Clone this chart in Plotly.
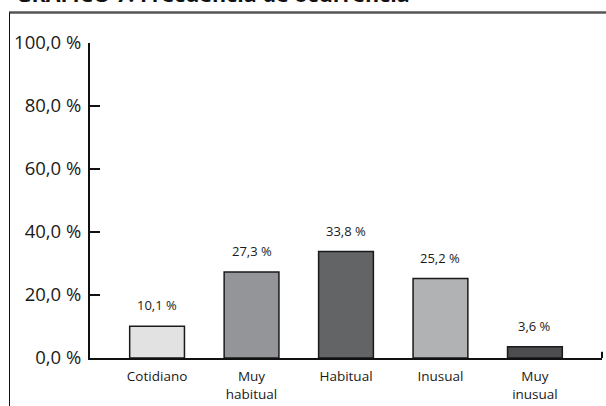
import plotly.graph_objects as go

categories = ["Cotidiano", "Muy<br>habitual", "Habitual", "Inusual", "Muy<br>inusual"]
values = [10.1, 27.3, 33.8, 25.2, 3.6]
value_labels = ["10,1 %", "27,3 %", "33,8 %", "25,2 %", "3,6 %"]
bar_colors = ["#e2e2e3", "#939598", "#636466", "#b1b2b4", "#4d4d4f"]
y_ticks = [0, 20, 40, 60, 80, 100]
y_tick_labels = ["0,0 %", "20,0 %", "40,0 %", "60,0 %", "80,0 %", "100,0 %"]
title_text = "GRÁFICO 7: Frecuencia de ocurrencia"

FONT = "Open Sans"

W, H = 606, 406
ML, MR, MT, MB = 9, 0, 12, 0
PW, PH = W - ML - MR, H - MT - MB


def px_x(x):
    return (x - ML) / PW


def px_y(y):
    return (H - MB - y) / PH


fig = go.Figure()
fig.add_trace(go.Bar(
    x=categories, y=values,
    marker=dict(color=bar_colors, line=dict(color="#1a1a1a", width=1.5)),
    width=0.58,
    hoverinfo="skip",
))

for c, v, t in zip(categories, values, value_labels):
    fig.add_annotation(x=c, y=v, text=t, showarrow=False, yanchor="middle",
                       yshift=21, font=dict(family=FONT, size=13, color="#1a1a1a"))

# title (cut at top edge)
fig.add_annotation(xref="paper", yref="paper", x=px_x(14), y=1, xanchor="left", yanchor="bottom",
                   yshift=2, text="<b>" + title_text + "</b>", showarrow=False,
                   font=dict(family=FONT, size=21.5, color="#111"))

shapes = [
    dict(type="line", xref="paper", yref="paper", x0=0, x1=1, y0=px_y(12.5), y1=px_y(12.5),
         line=dict(color="#555555", width=2.5), layer="above"),
    dict(type="line", xref="paper", yref="paper", x0=px_x(9.5), x1=px_x(9.5), y0=px_y(12.5), y1=0,
         line=dict(color="#111111", width=1), layer="above"),
    dict(type="line", xref="x domain", yref="y", x0=1, x1=1, y0=0, y1=2,
         line=dict(color="#111111", width=2)),
]
fig.update_layout(shapes=shapes)

fig.update_layout(
    width=W, height=H,
    margin=dict(l=ML, r=MR, t=MT, b=MB, pad=0, autoexpand=False),
    paper_bgcolor="white", plot_bgcolor="white",
    showlegend=False,
    font=dict(family=FONT, color="#1a1a1a"),
)
fig.update_xaxes(
    automargin=False, domain=[px_x(90), px_x(602)],
    range=[-0.71, 4.71], showline=True, linecolor="#111111", linewidth=2,
    ticks="", showgrid=False, zeroline=False,
    tickfont=dict(family=FONT, size=13.5, color="#1a1a1a"),
    ticklabelstandoff=5,
)
fig.update_yaxes(
    automargin=False, domain=[px_y(358), px_y(43)],
    range=[0, 100], tickvals=y_ticks, ticktext=y_tick_labels,
    showline=True, linecolor="#111111", linewidth=2,
    ticks="inside", ticklen=10, tickwidth=2, tickcolor="#111111",
    showgrid=False, zeroline=False,
    tickfont=dict(family=FONT, size=18.5, color="#1a1a1a"),
    ticklabelstandoff=3,
)

fig.write_html("out.html", config={"displayModeBar": False},
               post_script="document.body.style.margin='0';document.body.style.overflow='hidden';")
